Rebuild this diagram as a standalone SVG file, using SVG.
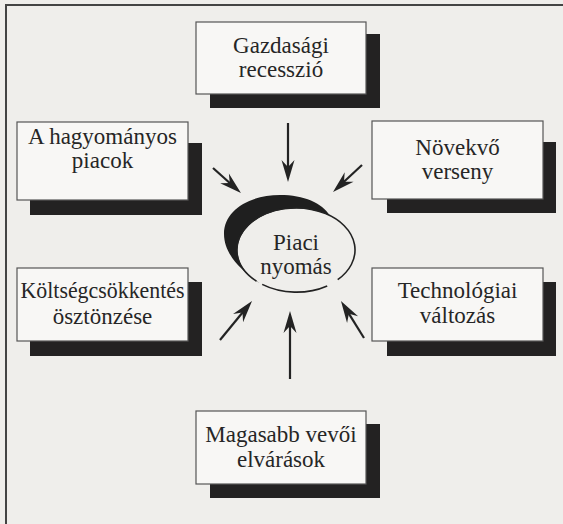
<svg xmlns="http://www.w3.org/2000/svg" width="563" height="524" viewBox="0 0 563 524">
<style>
.bg{fill:#efeeeb}
.box{fill:#f8f7f5;stroke:#555;stroke-width:1.2}
.sh{fill:#232222}
.t{font-family:'Liberation Serif','Times New Roman',serif;font-size:23px;fill:#262626;text-anchor:middle}
.arr{stroke:#232323;stroke-width:2.2;fill:none;marker-end:url(#ah)}
.frame{stroke:#444;stroke-width:2;fill:none}
</style>
<defs>
<marker id="ah" viewBox="-11 -7 24 14" refX="0" refY="0" markerWidth="24" markerHeight="14" markerUnits="userSpaceOnUse" orient="auto">
<path d="M12,0 L-10,-6.5 L-3,0 L-10,6.5 Z" fill="#232323"/>
</marker>
</defs>
<rect class="bg" x="0" y="0" width="563" height="524"/>
<path class="frame" d="M6,524 L6,5 L563,5"/>

<g id="gazdasagi">
<rect class="sh" x="210" y="34" width="170" height="74"/>
<rect class="box" x="196" y="22" width="170" height="72"/>
<text class="t" x="281" y="53">Gazdasági</text>
<text class="t" x="281" y="77">recesszió</text>
</g>
<g id="hagyomanyos">
<rect class="sh" x="30" y="143" width="172" height="72"/>
<rect class="box" x="17" y="122" width="171" height="78"/>
<text class="t" x="102.5" y="144">A hagyományos</text>
<text class="t" x="102.5" y="168">piacok</text>
</g>
<g id="novekvo">
<rect class="sh" x="387" y="142" width="169" height="71"/>
<rect class="box" x="372" y="121" width="171" height="78"/>
<text class="t" x="457.5" y="155">Növekvő</text>
<text class="t" x="457.5" y="179">verseny</text>
</g>
<g id="koltseg">
<rect class="sh" x="30" y="282" width="172" height="74"/>
<rect class="box" x="17" y="268" width="171" height="73"/>
<text class="t" x="102.5" y="298" textLength="164" lengthAdjust="spacingAndGlyphs">Költségcsökkentés</text>
<text class="t" x="102.5" y="324">ösztönzése</text>
</g>
<g id="technologiai">
<rect class="sh" x="387" y="282" width="169" height="74"/>
<rect class="box" x="372" y="268" width="171" height="73"/>
<text class="t" x="457.5" y="298">Technológiai</text>
<text class="t" x="457.5" y="323">változás</text>
</g>
<g id="magasabb">
<rect class="sh" x="210" y="424" width="170" height="74"/>
<rect class="box" x="196" y="411" width="170" height="73"/>
<text class="t" x="281" y="442">Magasabb vevői</text>
<text class="t" x="281" y="467">elvárások</text>
</g>
<g id="piaci">
<path d="M259.7,283.1 C243,272 224,255 224,234 C224,210 250,195 280,195 C304,195 322,203 329.8,215.6 A59 42 0 0 0 259.7,283.1 Z" fill="#1f1f1f"/>
<path d="M325.5,213.6 A59 42 0 0 1 337.7,279.7 M327.2,285.9 A59 42 0 0 1 262.2,284.4 M256.5,281.2 A59 42 0 0 1 325.5,213.6" fill="none" stroke="#222" stroke-width="1.6"/>
<text class="t" x="296" y="250">Piaci</text>
<text class="t" x="296" y="274">nyomás</text>
</g>
<g id="connectors">
<line class="arr" x1="288" y1="123" x2="288" y2="170"/>
<line class="arr" x1="213" y1="168" x2="232" y2="185"/>
<line class="arr" x1="362" y1="165" x2="341.8" y2="183.8"/>
<line class="arr" x1="220" y1="340" x2="244.4" y2="310.3"/>
<line class="arr" x1="290" y1="379" x2="290" y2="323"/>
<line class="arr" x1="364" y1="338" x2="347.3" y2="311.2"/>
</g>
</svg>
